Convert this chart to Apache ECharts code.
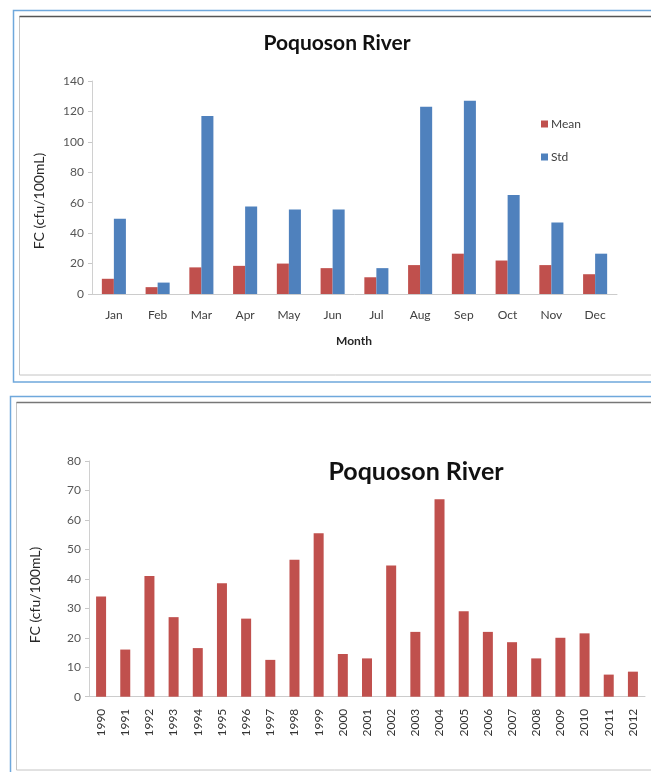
<!DOCTYPE html>
<html>
<head>
<meta charset="utf-8">
<script src="https://cdn.jsdelivr.net/npm/echarts@6/dist/echarts.min.js"></script>
<style>
  html, body { margin: 0; padding: 0; background: #ffffff; }
  #chart { width: 651px; height: 772px; }
</style>
</head>
<body>
<div id="chart"></div>
<script>
// Monthly fecal coliform statistics, Poquoson River
const months = ['Jan', 'Feb', 'Mar', 'Apr', 'May', 'Jun', 'Jul', 'Aug', 'Sep', 'Oct', 'Nov', 'Dec'];
const monthlyMean = [10, 4.5, 17.5, 18.5, 20, 17, 11, 19, 26.5, 22, 19, 13];
const monthlyStd = [49.5, 7.5, 117, 57.5, 55.5, 55.5, 17, 123, 127, 65, 47, 26.5];

// Annual mean fecal coliform, Poquoson River
const years = ['1990', '1991', '1992', '1993', '1994', '1995', '1996', '1997', '1998', '1999', '2000', '2001',
  '2002', '2003', '2004', '2005', '2006', '2007', '2008', '2009', '2010', '2011', '2012'];
const annualMean = [34, 16, 41, 27, 16.5, 38.5, 26.5, 12.5, 46.5, 55.5, 14.5, 13, 44.5, 22, 67, 29, 22, 18.5, 13, 20, 21.5, 7.5, 8.5];

const topTicks = { min: 0, max: 140, interval: 20 };
const bottomTicks = { min: 0, max: 80, interval: 10 };

const FONT = 'Lato, "Open Sans", sans-serif';
const RED = '#C0504D';
const BLUE = '#4F81BD';

const chart = echarts.init(document.getElementById('chart'), null, { renderer: 'canvas' });

const yAxisStyle = {
  type: 'value',
  axisLine: { show: true, lineStyle: { color: '#d0d0d0', width: 1 } },
  axisTick: { show: true, length: 4, lineStyle: { color: '#c8c8c8' } },
  splitLine: { show: false },
  axisLabel: { color: '#555555', fontSize: 12, fontFamily: FONT, margin: 8 }
};

const option = {
  animation: false,
  backgroundColor: '#ffffff',
  graphic: [
    // panel frames
    { type: 'rect', shape: { x: 13.5, y: 10.5, width: 700, height: 371.5 }, style: { fill: 'none', stroke: '#6FA8DC', lineWidth: 1.5 }, silent: true },
    { type: 'rect', shape: { x: 19.5, y: 16.5, width: 700, height: 358.5 }, style: { fill: 'none', stroke: '#c4c4c4', lineWidth: 1 }, silent: true },
    { type: 'line', shape: { x1: 19.5, y1: 16.5, x2: 720, y2: 16.5 }, style: { stroke: '#555555', lineWidth: 1.5 }, silent: true },
    { type: 'rect', shape: { x: 10.5, y: 396.5, width: 700, height: 390 }, style: { fill: 'none', stroke: '#6FA8DC', lineWidth: 1.5 }, silent: true },
    { type: 'rect', shape: { x: 16.5, y: 402.5, width: 700, height: 367.5 }, style: { fill: 'none', stroke: '#c4c4c4', lineWidth: 1 }, silent: true },
    { type: 'line', shape: { x1: 16.5, y1: 402.5, x2: 720, y2: 402.5 }, style: { stroke: '#777777', lineWidth: 1.5 }, silent: true },
    // titles
    { type: 'text', x: 337, y: 43, style: { text: 'Poquoson River', font: 'bold 21px ' + FONT, fill: '#111111', textAlign: 'center', textVerticalAlign: 'middle' } },
    { type: 'text', x: 416, y: 472, style: { text: 'Poquoson River', font: 'bold 25px ' + FONT, fill: '#111111', textAlign: 'center', textVerticalAlign: 'middle' } },
    // axis titles
    { type: 'text', x: 39, y: 201, rotation: Math.PI / 2, style: { text: 'FC (cfu/100mL)', font: '14px ' + FONT, fill: '#262626', textAlign: 'center', textVerticalAlign: 'middle' } },
    { type: 'text', x: 35, y: 595, rotation: Math.PI / 2, style: { text: 'FC (cfu/100mL)', font: '14px ' + FONT, fill: '#262626', textAlign: 'center', textVerticalAlign: 'middle' } },
    { type: 'text', x: 354, y: 341, style: { text: 'Month', font: 'bold 12px ' + FONT, fill: '#262626', textAlign: 'center', textVerticalAlign: 'middle' } }
  ],
  legend: {
    orient: 'vertical',
    left: 536,
    top: 113,
    itemGap: 21,
    itemWidth: 7,
    itemHeight: 7,
    icon: 'rect',
    data: ['Mean', 'Std'],
    textStyle: { color: '#404040', fontSize: 12, fontFamily: FONT, padding: [0, 0, 0, -2] }
  },
  grid: [
    { left: 92, width: 525, top: 81, height: 213 },
    { left: 89, width: 556, top: 461, height: 235.7 }
  ],
  xAxis: [
    {
      gridIndex: 0, type: 'category', data: months,
      axisLine: { lineStyle: { color: '#cccccc' } },
      axisTick: { show: false },
      axisLabel: { color: '#404040', fontSize: 12, fontFamily: FONT, margin: 15 }
    },
    {
      gridIndex: 1, type: 'category', data: years,
      axisLine: { lineStyle: { color: '#cccccc' } },
      axisTick: { show: false },
      axisLabel: { color: '#333333', fontSize: 12, fontFamily: FONT, margin: 12, rotate: 90 }
    }
  ],
  yAxis: [
    Object.assign({ gridIndex: 0 }, yAxisStyle, topTicks),
    Object.assign({ gridIndex: 1 }, yAxisStyle, bottomTicks)
  ],
  series: [
    {
      name: 'Mean', type: 'bar', xAxisIndex: 0, yAxisIndex: 0, data: monthlyMean,
      barGap: '0%', barCategoryGap: '45%',
      itemStyle: { color: RED }
    },
    {
      name: 'Std', type: 'bar', xAxisIndex: 0, yAxisIndex: 0, data: monthlyStd,
      barGap: '0%', barCategoryGap: '45%',
      itemStyle: { color: BLUE }
    },
    {
      name: 'Annual mean', type: 'bar', xAxisIndex: 1, yAxisIndex: 1, data: annualMean,
      barWidth: 10,
      itemStyle: { color: RED }
    }
  ]
};

chart.setOption(option);
</script>
</body>
</html>
